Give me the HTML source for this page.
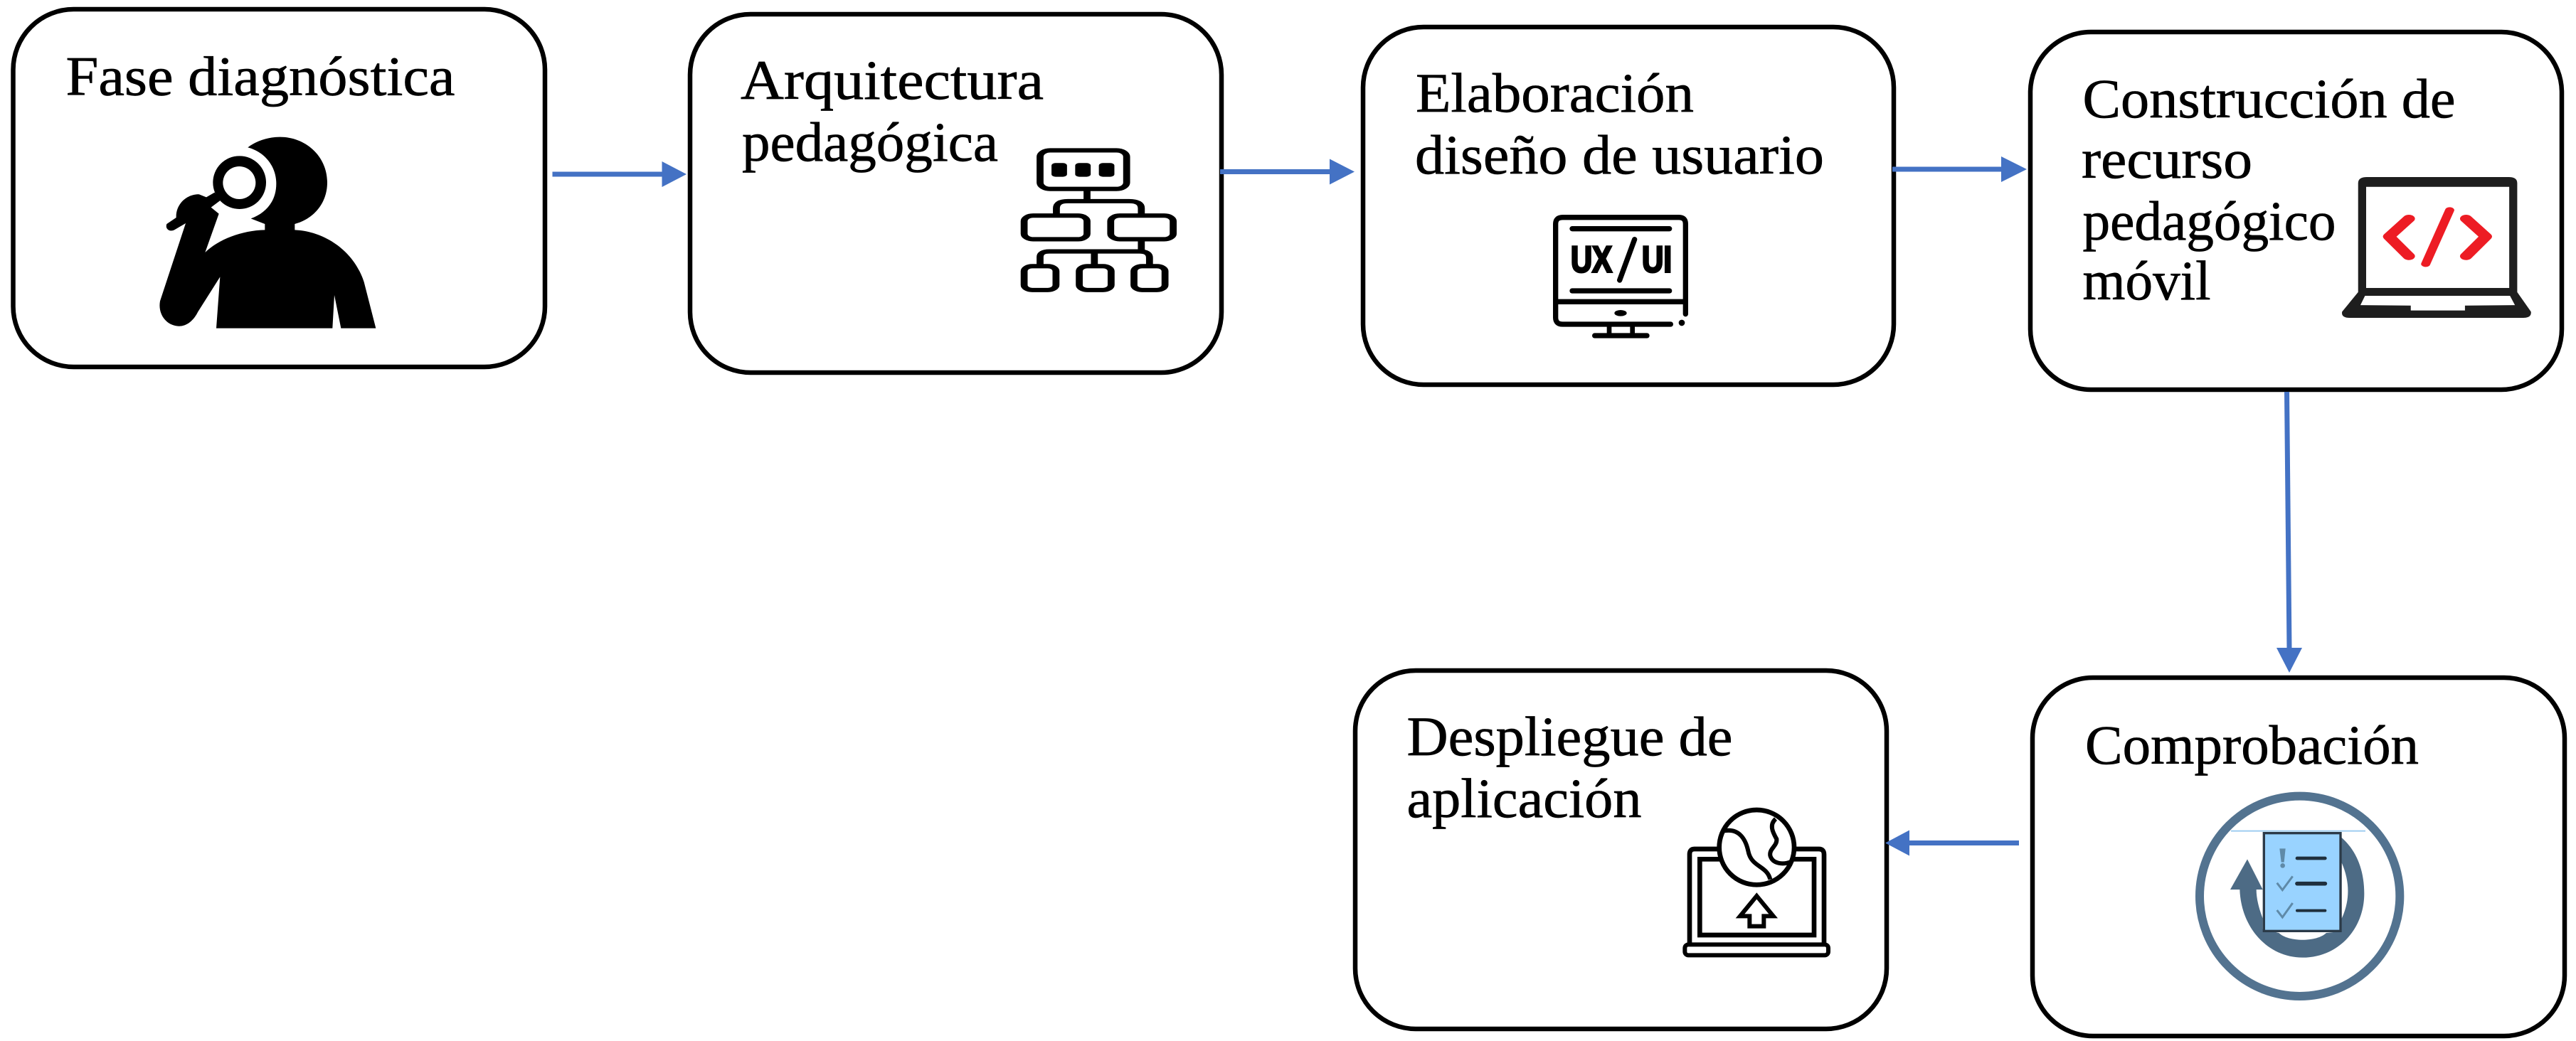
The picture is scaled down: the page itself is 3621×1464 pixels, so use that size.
<!DOCTYPE html>
<html lang="es">
<head>
<meta charset="utf-8">
<title>Fases</title>
<style>
html,body{margin:0;padding:0;background:#fff}
svg{display:block}
text.t{font-family:"Liberation Serif",serif;font-size:78px;fill:#000;stroke:#000;stroke-width:0.7px}
</style>
</head>
<body>
<svg xmlns="http://www.w3.org/2000/svg" width="3621" height="1464" viewBox="0 0 3621 1464">
<rect width="3621" height="1464" fill="#fff"/>

<!-- boxes -->
<g fill="#fff" stroke="#000" stroke-width="6.500">
<rect x="18.500" y="13" width="747.500" height="503" rx="85" ry="85"/>
<rect x="970" y="20" width="747" height="504" rx="85" ry="85"/>
<rect x="1916" y="38" width="746" height="503" rx="85" ry="85"/>
<rect x="2854" y="45" width="747" height="503" rx="85" ry="85"/>
<rect x="2857" y="953" width="748" height="504" rx="85" ry="85"/>
<rect x="1905" y="943" width="747" height="504" rx="85" ry="85"/>
</g>

<!-- arrows -->
<g stroke="#4472c4" stroke-width="7" fill="none">
<line x1="776.500" y1="245" x2="932" y2="245"/>
<line x1="1715" y1="241.500" x2="1871" y2="241.500"/>
<line x1="2660" y1="238" x2="2815" y2="238"/>
<line x1="3214.500" y1="551" x2="3218" y2="913"/>
<line x1="2838" y1="1185.500" x2="2682" y2="1185.500"/>
</g>
<g fill="#4472c4">
<polygon points="930.500,227 965,245 930.500,263"/>
<polygon points="1869,223.500 1904,241.500 1869,259.500"/>
<polygon points="2813,220 2849,238 2813,256"/>
<polygon points="3200,911 3236,911 3218,946"/>
<polygon points="2684,1167.500 2650,1185.500 2684,1203.500"/>
</g>

<!-- labels -->
<text class="t" x="92.500" y="133.500" textLength="547" lengthAdjust="spacingAndGlyphs">Fase diagnóstica</text>
<text class="t" x="1041" y="139" textLength="426" lengthAdjust="spacingAndGlyphs">Arquitectura</text>
<text class="t" x="1043" y="226" textLength="360" lengthAdjust="spacingAndGlyphs">pedagógica</text>
<text class="t" x="1990" y="157" textLength="391" lengthAdjust="spacingAndGlyphs">Elaboración</text>
<text class="t" x="1989" y="244" textLength="575" lengthAdjust="spacingAndGlyphs">diseño de usuario</text>
<text class="t" x="2927.500" y="165" textLength="524" lengthAdjust="spacingAndGlyphs">Construcción de</text>
<text class="t" x="2926" y="250" textLength="240" lengthAdjust="spacingAndGlyphs">recurso</text>
<text class="t" x="2927.500" y="337" textLength="356" lengthAdjust="spacingAndGlyphs">pedagógico</text>
<text class="t" x="2927.500" y="421" textLength="180" lengthAdjust="spacingAndGlyphs">móvil</text>
<text class="t" x="2931" y="1074" textLength="469" lengthAdjust="spacingAndGlyphs">Comprobación</text>
<text class="t" x="1977.500" y="1062" textLength="458" lengthAdjust="spacingAndGlyphs">Despliegue de</text>
<text class="t" x="1977.500" y="1149" textLength="330" lengthAdjust="spacingAndGlyphs">aplicación</text>

<!-- person icon -->
<g transform="translate(200 180) scale(0.33333)">
<path fill="#000" d="M445,82 C480,55 530,38 580,38 C690,38 780,120 780,230 C780,320 720,385 643,405 L643,430 C760,435 890,510 935,650 L985,845 L838,845 L810,705 L802,845 L312,845 L328,628 L235,775 C215,815 185,838 150,836 C100,832 65,785 75,730 L183,402 L135,430 C115,440 95,425 103,405 L143,378 C140,320 190,278 240,280 L270,292 L305,272 L330,305 L290,335 L323,362 L265,525 C320,470 420,432 517,430 L517,405 L458,382 C520,360 565,310 565,235 C565,160 515,100 445,82 Z"/>
<circle cx="410" cy="230" r="112" fill="#000"/>
<circle cx="409" cy="231" r="69" fill="#fff"/>
</g>

<!-- hierarchy icon -->
<g transform="translate(950 0) scale(0.57398 0.35714)" fill="none" stroke="#000" stroke-width="17">
<rect x="892" y="592" width="212" height="152" rx="25"/>
<g fill="#000" stroke="none">
<rect x="920" y="642" width="38" height="54" rx="10"/>
<rect x="978" y="642" width="38" height="54" rx="10"/>
<rect x="1036" y="642" width="38" height="54" rx="10"/>
</g>
<line x1="1007" y1="750" x2="1007" y2="792"/>
<path d="M932,845 L932,820 Q932,792 960,792 L1110,792 Q1140,792 1140,820 L1140,845"/>
<rect x="853" y="849" width="154" height="93" rx="22"/>
<rect x="1065" y="849" width="153" height="93" rx="22"/>
<line x1="1140" y1="948" x2="1140" y2="990"/>
<path d="M892,1042 L892,1012 Q892,990 915,990 L1135,990 Q1160,990 1160,1015 L1160,1042"/>
<line x1="1025" y1="990" x2="1025" y2="1042"/>
<rect x="853" y="1048" width="78" height="94" rx="20"/>
<rect x="988" y="1048" width="78" height="94" rx="20"/>
<rect x="1122" y="1048" width="76" height="94" rx="20"/>
</g>

<!-- UX/UI icon -->
<g transform="translate(2170 290) scale(0.33333)" fill="none" stroke="#000" stroke-width="22">
<path d="M598,455 L598,75 Q598,47 570,47 L80,47 Q50,47 50,75 L50,470 Q50,498 80,498 L535,498" stroke-linecap="round"/>
<circle cx="582" cy="492" r="13" fill="#000" stroke="none"/>
<line x1="120" y1="95" x2="530" y2="95" stroke-linecap="round"/>
<line x1="120" y1="357" x2="530" y2="357" stroke-linecap="round"/>
<line x1="50" y1="403" x2="598" y2="403"/>
<ellipse cx="324" cy="451" rx="26" ry="13" fill="#000" stroke="none"/>
<line x1="276" y1="498" x2="276" y2="545" stroke-width="20"/>
<line x1="374" y1="498" x2="374" y2="545" stroke-width="20"/>
<line x1="215" y1="546" x2="435" y2="546" stroke-linecap="round"/>
<line x1="383" y1="140" x2="320" y2="312" stroke-linecap="round"/>
<text x="114" y="278" stroke="#000" stroke-width="9" fill="#000" font-family="Liberation Sans, sans-serif" font-weight="700" font-size="155" textLength="174" lengthAdjust="spacingAndGlyphs">UX</text>
<text x="414" y="278" stroke="#000" stroke-width="9" fill="#000" font-family="Liberation Sans, sans-serif" font-weight="700" font-size="155" textLength="126" lengthAdjust="spacingAndGlyphs">UI</text>
</g>

<!-- laptop code icon -->
<g transform="translate(2780 20) scale(0.53635 0.34435)">
<path fill="#1e1e1e" d="M997,690 Q997,665 1020,665 L1392,665 Q1414,665 1414,690 L1414,1135 L1450,1215 Q1452,1240 1430,1240 L975,1240 Q952,1240 955,1215 L997,1135 Z"/>
<rect x="1018" y="705" width="375" height="413" fill="#fff"/>
<path fill="#fff" d="M1015,1150 L1395,1150 L1408,1188 L1277,1190 L1277,1210 L1135,1210 L1135,1190 L1003,1188 Z"/>
<g fill="none" stroke="#ed1c24" stroke-linecap="round" stroke-linejoin="round">
<polyline points="1130,835 1078,908 1130,988" stroke-width="32"/>
<polyline points="1280,835 1332,908 1280,988" stroke-width="32"/>
<line x1="1237" y1="800" x2="1174" y2="1020" stroke-width="24"/>
</g>
</g>

<!-- deploy icon -->
<g transform="translate(2350 1120) scale(0.33333)" fill="none" stroke="#000" stroke-width="20">
<path d="M195,222 L95,222 Q75,222 75,245 L75,622"/>
<path d="M520,222 L620,222 Q642,222 642,245 L642,622"/>
<path d="M205,265 L118,265 L118,585 L600,585 L600,265 L510,265"/>
<rect x="55" y="625" width="605" height="45" rx="15" stroke-width="18"/>
<circle cx="358" cy="215" r="158" fill="#fff"/>
<path d="M222,145 C280,135 310,175 322,230 C335,300 400,290 415,350" stroke-width="18"/>
<path d="M438,95 C410,120 425,150 442,180 C445,210 410,220 415,250 C425,285 470,290 505,275" stroke-width="18"/>
<path d="M358,420 L428,505 L388,505 L388,548 L328,548 L328,505 L288,505 Z" stroke-width="18"/>
</g>

<!-- check icon -->
<g transform="translate(3060 1100) scale(0.33333)">
<circle cx="518" cy="481" r="422" fill="none" stroke="#537390" stroke-width="36"/>
<line x1="228" y1="206" x2="795" y2="206" stroke="#9fcdf0" stroke-width="6"/>
<path fill="#4d6b85" d="M265,453 C270,610 380,740 530,740 C680,740 790,620 790,470 C790,360 750,280 690,230 L690,630 L630,636 C590,675 470,675 430,636 L362,620 L362,575 C345,530 335,490 335,453 Z"/>
<path fill="#fff" d="M695,340 C730,420 730,500 695,575 Z"/>
<path fill="#4d6b85" d="M297,325 L362,453 L225,453 Z"/>
<rect x="367" y="215" width="323" height="413" fill="#99d3ff" stroke="#2b3a48" stroke-width="10"/>
<g fill="none" stroke="#1f2f3d" stroke-linecap="round">
<line x1="507" y1="321" x2="625" y2="321" stroke-width="14"/>
<line x1="507" y1="428" x2="625" y2="428" stroke-width="17"/>
<line x1="507" y1="542" x2="625" y2="542" stroke-width="12"/>
</g>
<path fill="#5f8aa8" d="M433,280 L458,280 L452,338 L440,338 Z"/>
<circle cx="446" cy="352" r="10" fill="#5f8aa8"/>
<g fill="none" stroke="#5f8aa8" stroke-width="9">
<polyline points="422,425 445,455 488,397"/>
<polyline points="422,540 445,570 488,510"/>
</g>
</g>
</svg>
</body>
</html>
